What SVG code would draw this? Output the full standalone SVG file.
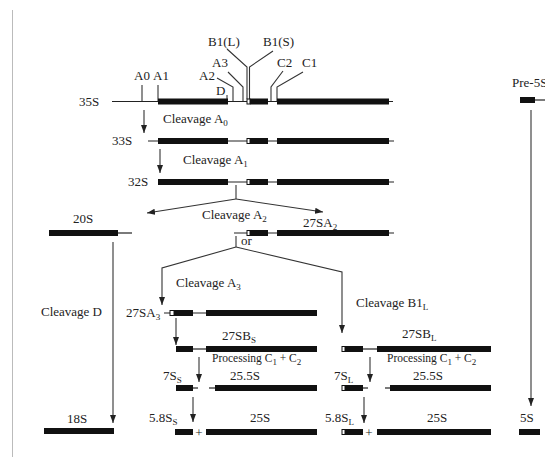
<svg xmlns="http://www.w3.org/2000/svg" width="545" height="457" viewBox="0 0 545 457">
<style>
text{font-family:"Liberation Serif","Times New Roman",serif;font-size:13px;fill:#222}
.s{font-size:9px}
.p{font-size:11.5px}
.bar{fill:#111}
.box{fill:#fff;stroke:#111;stroke-width:1}
.ln{stroke:#222;stroke-width:1.2;fill:none}
.c{stroke:#333;stroke-width:1.1;fill:none}
.ca{stroke:#333;stroke-width:1.1;fill:none;marker-end:url(#ah)}
</style>
<defs>
<marker id="ah" viewBox="0 0 8 8" refX="8" refY="4" markerWidth="8" markerHeight="8" markerUnits="userSpaceOnUse" orient="auto">
<path d="M0,1 L8,4 L0,7 Z" fill="#222"/>
</marker>
</defs>
<rect width="545" height="457" fill="#fff"/>
<line x1="12.5" y1="10" x2="12.5" y2="457" stroke="#bbb" stroke-width="1"/>

<g id="sites">
<polyline class="c" points="142,101 142,85"/>
<polyline class="c" points="158,101 158,85"/>
<polyline class="c" points="227,101 227,95"/>
<polyline class="c" points="233,101 233,87 217,78"/>
<polyline class="c" points="243,101 243,87 228,72"/>
<polyline class="c" points="247,99 247,67 227,49"/>
<polyline class="c" points="249.5,99 249.5,67 273,51"/>
<polyline class="c" points="271,101 271,87 283,71"/>
<polyline class="c" points="277,101 277,87 303,72"/>
<text x="142" y="80" text-anchor="middle">A0</text>
<text x="161" y="80" text-anchor="middle">A1</text>
<text x="199" y="80">A2</text>
<text x="212" y="67">A3</text>
<text x="216" y="95">D</text>
<text x="208" y="46">B1(L)</text>
<text x="263" y="46">B1(S)</text>
<text x="277" y="67">C2</text>
<text x="302" y="67">C1</text>
</g>

<g id="n35S">
<text x="79" y="106">35S</text>
<line class="ln" x1="112" y1="101.5" x2="393" y2="101.5"/>
<rect class="bar" x="158" y="98.5" width="70" height="6"/>
<rect class="box" x="247" y="99" width="3" height="5"/>
<rect class="bar" x="250" y="98.5" width="18" height="6"/>
<rect class="bar" x="277" y="98.5" width="112" height="6"/>
</g>

<g id="n33S">
<text x="112" y="145">33S</text>
<line class="ln" x1="148" y1="141" x2="394" y2="141"/>
<rect class="bar" x="158" y="138" width="70" height="6"/>
<rect class="box" x="247" y="138.5" width="3" height="5"/>
<rect class="bar" x="250" y="138" width="18" height="6"/>
<rect class="bar" x="277" y="138" width="112" height="6"/>
</g>

<g id="n32S">
<text x="128" y="186">32S</text>
<line class="ln" x1="228" y1="182" x2="394" y2="182"/>
<rect class="bar" x="158" y="179" width="70" height="6"/>
<rect class="box" x="247" y="179.5" width="3" height="5"/>
<rect class="bar" x="250" y="179" width="18" height="6"/>
<rect class="bar" x="277" y="179" width="112" height="6"/>
</g>

<g id="n20S">
<text x="73" y="223">20S</text>
<line class="ln" x1="118" y1="233" x2="132" y2="233"/>
<rect class="bar" x="49" y="230" width="69" height="6"/>
</g>

<g id="n27SA2">
<text x="303" y="227">27SA<tspan class="s" dy="3">2</tspan></text>
<line class="ln" x1="234" y1="233" x2="394" y2="233"/>
<rect class="box" x="247" y="230.5" width="3" height="5"/>
<rect class="bar" x="250" y="230" width="18" height="6"/>
<rect class="bar" x="277" y="230" width="112" height="6"/>
</g>

<g id="n27SA3">
<text x="126" y="317">27SA<tspan class="s" dy="3">3</tspan></text>
<line class="ln" x1="164" y1="313" x2="206" y2="313"/>
<rect class="box" x="170" y="310.5" width="4" height="5"/>
<rect class="bar" x="174" y="310" width="19" height="6"/>
<rect class="bar" x="206" y="310" width="111" height="6"/>
</g>

<g id="n27SBS">
<text x="222" y="340">27SB<tspan class="s" dy="3">S</tspan></text>
<line class="ln" x1="193" y1="349" x2="206" y2="349"/>
<rect class="bar" x="176" y="346" width="17" height="6"/>
<rect class="bar" x="206" y="346" width="111" height="6"/>
<text class="p" x="212" y="362">Processing C<tspan class="s" dy="3">1</tspan><tspan dy="-3"> + C</tspan><tspan class="s" dy="3">2</tspan></text>
</g>

<g id="n7SS">
<text x="163" y="380">7S<tspan class="s" dy="3">S</tspan></text>
<text x="230" y="380">25.5S</text>
<line class="ln" x1="193" y1="388" x2="198" y2="388"/>
<line class="ln" x1="209" y1="388" x2="215" y2="388"/>
<rect class="bar" x="176" y="385" width="17" height="6"/>
<rect class="bar" x="215" y="385" width="102" height="6"/>
</g>

<g id="n58SS">
<text x="149" y="422">5.8S<tspan class="s" dy="3">S</tspan></text>
<text x="250" y="422">25S</text>
<rect class="bar" x="175" y="429" width="18" height="6"/>
<text x="199" y="437" text-anchor="middle">+</text>
<rect class="bar" x="206" y="429" width="111" height="6"/>
</g>

<g id="n18S">
<text x="67" y="423">18S</text>
<rect class="bar" x="44" y="428" width="70" height="6"/>
</g>

<g id="n27SBL">
<text x="402" y="338">27SB<tspan class="s" dy="3">L</tspan></text>
<line class="ln" x1="363" y1="349" x2="377" y2="349"/>
<rect class="box" x="342" y="346.5" width="3" height="5"/>
<rect class="bar" x="345" y="346" width="18" height="6"/>
<rect class="bar" x="377" y="346" width="114" height="6"/>
<text class="p" x="387" y="362">Processing C<tspan class="s" dy="3">1</tspan><tspan dy="-3"> + C</tspan><tspan class="s" dy="3">2</tspan></text>
</g>

<g id="n7SL">
<text x="334" y="380">7S<tspan class="s" dy="3">L</tspan></text>
<text x="413" y="380">25.5S</text>
<line class="ln" x1="363" y1="388" x2="368" y2="388"/>
<line class="ln" x1="385" y1="388" x2="390" y2="388"/>
<rect class="box" x="342" y="385.5" width="3" height="5"/>
<rect class="bar" x="345" y="385" width="18" height="6"/>
<rect class="bar" x="390" y="385" width="101" height="6"/>
</g>

<g id="n58SL">
<text x="325" y="422">5.8S<tspan class="s" dy="3">L</tspan></text>
<text x="427" y="422">25S</text>
<rect class="box" x="342" y="429.5" width="3" height="5"/>
<rect class="bar" x="345" y="429" width="18" height="6"/>
<text x="369" y="437" text-anchor="middle">+</text>
<rect class="bar" x="377" y="429" width="114" height="6"/>
</g>

<g id="nPre5S">
<text x="512" y="87">Pre-5S</text>
<rect class="bar" x="520" y="97" width="15" height="6"/>
<line class="ln" x1="535" y1="100" x2="545" y2="100"/>
</g>

<g id="n5S">
<text x="520" y="422">5S</text>
<rect class="bar" x="519" y="429" width="21" height="6"/>
</g>

<g id="connectors">
<line class="ca" x1="144" y1="110" x2="144" y2="133"/>
<text x="163" y="123">Cleavage A<tspan class="s" dy="3">0</tspan></text>
<line class="ca" x1="160" y1="149" x2="160" y2="173"/>
<text x="183" y="164">Cleavage A<tspan class="s" dy="3">1</tspan></text>
<line class="c" x1="236" y1="185" x2="236" y2="199"/>
<line class="ca" x1="236" y1="199" x2="147" y2="213"/>
<line class="ca" x1="236" y1="199" x2="323" y2="212"/>
<text x="202" y="219">Cleavage A<tspan class="s" dy="3">2</tspan></text>
<line class="c" x1="236" y1="236" x2="236" y2="247"/>
<text x="241" y="245">or</text>
<polyline class="ca" points="236,247 162,268 162,305"/>
<polyline class="ca" points="236,247 342,272 342,333"/>
<text x="176" y="287">Cleavage A<tspan class="s" dy="3">3</tspan></text>
<text x="356" y="307">Cleavage B1<tspan class="s" dy="3">L</tspan></text>
<line class="ca" x1="113" y1="242" x2="113" y2="423"/>
<text x="41" y="316">Cleavage D</text>
<line class="ca" x1="176" y1="318" x2="176" y2="345"/>
<line class="ca" x1="199" y1="357" x2="199" y2="382"/>
<line class="ca" x1="193" y1="397" x2="193" y2="422"/>
<line class="ca" x1="370" y1="357" x2="370" y2="382"/>
<line class="ca" x1="364" y1="397" x2="364" y2="423"/>
<line class="ca" x1="531" y1="110" x2="531" y2="406"/>
</g>
</svg>
